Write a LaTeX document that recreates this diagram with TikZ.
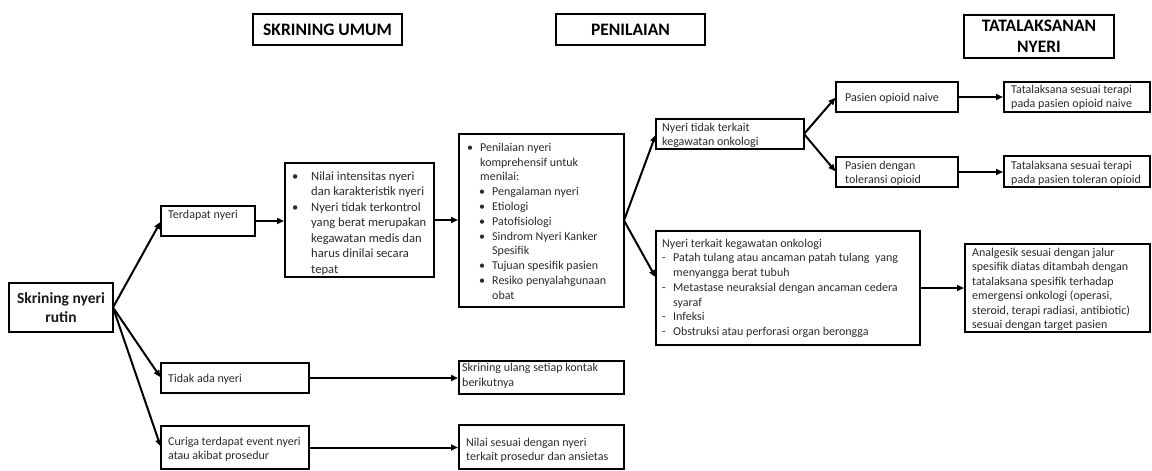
\documentclass[tikz,border=0pt]{standalone}
\usepackage{fontspec}
\setmainfont{Carlito}
\usetikzlibrary{arrows.meta,calc}
\definecolor{txtc}{HTML}{2A2A2A}
\begin{document}
\begin{tikzpicture}[x=1pt,y=-1pt,
  box/.style={draw=black, line width=2.4pt, anchor=north west, inner sep=0pt, outer sep=0pt},
  ttl/.style={box, font=\bfseries\fontsize{17.5}{21}\selectfont, align=center},
  txt/.style={anchor=north west, inner sep=0pt, align=left, text=txtc, font=\fontsize{12}{14.7}\selectfont},
  arr/.style={line width=2pt, -{Triangle[length=7pt,width=6pt]}, shorten >=1pt}
]
\useasboundingbox (0,0) rectangle (1152,471);

% headers
\node[ttl, minimum width=149pt, minimum height=31pt] (hSU) at (253,14) {SKRINING UMUM};
\node[ttl, minimum width=149pt, minimum height=31pt] (hPEN) at (556,14) {PENILAIAN};
\node[ttl, minimum width=150pt, minimum height=43pt] (hTAT) at (964,15) {TATALAKSANAN\\NYERI};

% root
\node[box, minimum width=104pt, minimum height=49pt, align=center,
      font=\bfseries\fontsize{15.5}{19}\selectfont, text=black!90] (root) at (9,283) {Skrining nyeri\\rutin};

% boxes
\node[box, minimum width=94pt,  minimum height=30pt]  (ter) at (161,206) {};
\node[box, minimum width=148pt, minimum height=30pt]  (tid) at (161,363) {};
\node[box, minimum width=148pt, minimum height=43pt]  (cur) at (161,426) {};
\node[box, minimum width=149pt, minimum height=114pt] (nil) at (285,163) {};
\node[box, minimum width=165pt, minimum height=173pt] (pen) at (459,134) {};
\node[box, minimum width=165pt, minimum height=33pt]  (sku) at (459,361) {};
\node[box, minimum width=165pt, minimum height=44pt]  (nss) at (459,425) {};
\node[box, minimum width=148pt, minimum height=30pt]  (ntt) at (656,119) {};
\node[box, minimum width=264pt, minimum height=114pt] (nt)  at (656,231) {};
\node[box, minimum width=122pt, minimum height=30pt]  (pon) at (836,82) {};
\node[box, minimum width=122pt, minimum height=30pt]  (pto) at (836,157) {};
\node[box, minimum width=146pt, minimum height=30pt]  (tn)  at (1004,82) {};
\node[box, minimum width=146pt, minimum height=31pt]  (tt)  at (1004,156) {};
\node[box, minimum width=185pt, minimum height=88pt]  (an)  at (965,244) {};

% texts
\node[txt] (terT) at (168,208) {\rule{0pt}{10pt}Terdapat nyeri};
\node[txt] (tidT) at (168,372) {\rule{0pt}{10pt}Tidak ada nyeri};
\node[txt] (curT) at (168,435) {\rule{0pt}{10pt}Curiga terdapat event nyeri\\atau akibat prosedur};
\node[txt, font=\fontsize{12.6}{15.5}\selectfont] (nilT) at (292,169.5) {\rule{0pt}{10.5pt}\makebox[19pt][l]{•}Nilai intensitas nyeri\\
\makebox[19pt][l]{}dan karakteristik nyeri\\
\makebox[19pt][l]{•}Nyeri tidak terkontrol\\
\makebox[19pt][l]{}yang berat merupakan\\
\makebox[19pt][l]{}kegawatan medis dan\\
\makebox[19pt][l]{}harus dinilai secara\\
\makebox[19pt][l]{}tepat};
\node[txt, font=\fontsize{12}{14.8}\selectfont] (penT) at (467,141) {\rule{0pt}{10pt}\makebox[13pt][l]{•}Penilaian nyeri\\
\makebox[13pt][l]{}komprehensif untuk\\
\makebox[13pt][l]{}menilai:\\
\makebox[12pt][l]{}\makebox[13pt][l]{•}Pengalaman nyeri\\
\makebox[12pt][l]{}\makebox[13pt][l]{•}Etiologi\\
\makebox[12pt][l]{}\makebox[13pt][l]{•}Patofisiologi\\
\makebox[12pt][l]{}\makebox[13pt][l]{•}Sindrom Nyeri Kanker\\
\makebox[25pt][l]{}Spesifik\\
\makebox[12pt][l]{}\makebox[13pt][l]{•}Tujuan spesifik pasien\\
\makebox[12pt][l]{}\makebox[13pt][l]{•}Resiko penyalahgunaan\\
\makebox[25pt][l]{}obat};
\node[txt] (skuT) at (462,361.5) {\rule{0pt}{10pt}Skrining ulang setiap kontak\\berikutnya};
\node[txt] (nssT) at (466,436) {\rule{0pt}{10pt}Nilai sesuai dengan nyeri\\terkait prosedur dan ansietas};
\node[txt] (nttT) at (662,121) {\rule{0pt}{10pt}Nyeri tidak terkait\\kegawatan onkologi};
\node[txt] (ntT) at (662,237) {\rule{0pt}{10pt}Nyeri terkait kegawatan onkologi\\
\makebox[11pt][l]{-}Patah tulang atau ancaman patah tulang\ \ yang\\
\makebox[11pt][l]{}menyangga berat tubuh\\
\makebox[11pt][l]{-}Metastase neuraksial dengan ancaman cedera\\
\makebox[11pt][l]{}syaraf\\
\makebox[11pt][l]{-}Infeksi\\
\makebox[11pt][l]{-}Obstruksi atau perforasi organ berongga};
\node[txt] (ponT) at (845,91) {\rule{0pt}{10pt}Pasien opioid naive};
\node[txt] (ptoT) at (845,159) {\rule{0pt}{10pt}Pasien dengan\\toleransi opioid};
\node[txt] (tnT) at (1011,83) {\rule{0pt}{10pt}Tatalaksana sesuai terapi\\pada pasien opioid naive};
\node[txt] (ttT) at (1011,159) {\rule{0pt}{10pt}Tatalaksana sesuai terapi\\pada pasien toleran opioid};
\node[txt, font=\fontsize{12}{14.5}\selectfont] (anT) at (972,246) {\rule{0pt}{10pt}Analgesik sesuai dengan jalur\\
spesifik diatas ditambah dengan\\
tatalaksana spesifik terhadap\\
emergensi onkologi (operasi,\\
steroid, terapi radiasi, antibiotic)\\
sesuai dengan target pasien};

% connectors
\draw[arr] (root.east) -- (ter.west);
\draw[arr] (root.east) -- (tid.west);
\draw[arr] (root.east) -- (cur.west);
\draw[arr] (ter.east) -- (ter.east -| nil.west);
\draw[arr] (nil.east) -- (nil.east -| pen.west);
\draw[arr] (tid.east) -- (tid.east -| sku.west);
\draw[arr] (cur.east) -- (cur.east -| nss.west);
\coordinate (ntin) at ($(nt.north west)+(0,47)$);
\draw[arr] (pen.east) -- (ntt.west);
\draw[arr] (pen.east) -- (ntin);
\draw[arr] (ntt.east) -- (pon.west);
\draw[arr] (ntt.east) -- (pto.west);
\draw[arr] (pon.east) -- (pon.east -| tn.west);
\draw[arr] (pto.east) -- (pto.east -| tt.west);
\draw[arr] (nt.east) -- (nt.east -| an.west);
\end{tikzpicture}
\end{document}
